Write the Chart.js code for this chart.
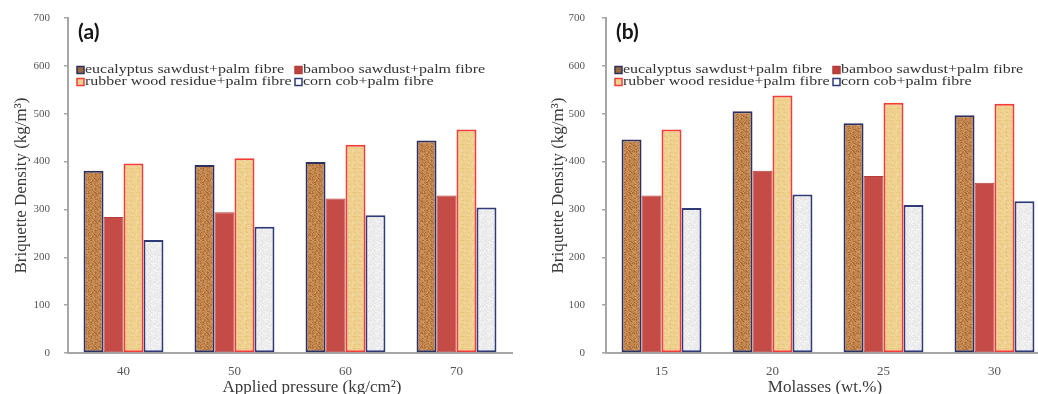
<!DOCTYPE html>
<html>
<head>
<meta charset="utf-8">
<script src="https://cdn.jsdelivr.net/npm/chart.js@4.4.0/dist/chart.umd.min.js"></script>
<style>
    html, body { margin: 0; padding: 0; background: #fff; overflow: hidden; width: 1038px; height: 394px; }
    #wrapA { position: absolute; left: 0; top: 0; width: 520px; height: 394px; }
    #wrapB { position: absolute; left: 520px; top: 0; width: 538px; height: 394px; }
</style>
</head>
<body>
<div id="wrapA"><canvas id="chartA" width="520" height="394"></canvas></div>
<div id="wrapB"><canvas id="chartB" width="538" height="394"></canvas></div>
<script>
// Données
const pressureLabels = ['40', '50', '60', '70'];
const molassesLabels = ['15', '20', '25', '30'];
const seriesNames = [
    'eucalyptus sawdust+palm fibre',
    'bamboo sawdust+palm fibre',
    'rubber wood residue+palm fibre',
    'corn cob+palm fibre'
];

// (a) pression appliquée
const eucalyptusA = [381, 393, 399, 444];
const bambooA = [284, 294, 323, 329];
const rubberA = [396, 407, 435, 467];
const cornA = [236, 264, 288, 304];

// (b) mélasse
const eucalyptusB = [446, 505, 480, 497];
const bambooB = [329, 381, 370, 356];
const rubberB = [467, 538, 523, 521];
const cornB = [303, 331, 309, 317];

const yMin = 0;
const yMax = 700;
const yStep = 100;

const SERIF = '"Liberation Serif", "Times New Roman", serif';

// Petites textures déterministes pour imiter le remplissage des barres
function makePattern(shades, rowShade, size) {
    const c = document.createElement('canvas');
    c.width = size;
    c.height = size;
    const g = c.getContext('2d');
    for (let y = 0; y < size; y++) {
        for (let x = 0; x < size; x++) {
            const h = (x * 37 + y * 91 + x * y * 13 + (x ^ y) * 7 + ((x * x + 3 * y * y) % 11)) % 23;
            let col = shades[h % shades.length];
            if (rowShade && y % 4 === 0 && h % 3 !== 0) col = rowShade;
            g.fillStyle = col;
            g.fillRect(x, y, 1, 1);
        }
    }
    return g.createPattern(c, 'repeat');
}

function buildStyles() {
    return [
        { fill: makePattern(['#c68c52', '#bd8047', '#a8693a', '#d29a5e', '#c48850', '#b3753f'], null, 14), border: '#2e3160', width: 2, legendFill: '#9a6a3c' },
        { fill: '#c44b46', border: '#b33f3b', width: 1, legendFill: '#c0403c' },
        { fill: makePattern(['#f0d392', '#edcc88', '#f3dca3', '#efd08e'], '#e8c77f', 12), border: '#f43c37', width: 2, legendFill: '#f0d392' },
        { fill: makePattern(['#f0f0f0', '#e8e8e8', '#f6f6f6', '#e2e2e2', '#eeeeee', '#f3f3f3'], null, 14), border: '#2f3a78', width: 2, legendFill: '#ffffff' }
    ];
}

// Plugin : étiquette du panneau, légende et titre de l'axe x
const panelDeco = {
    id: 'panelDeco',
    afterDraw(chart, args, opts) {
        const ctx = chart.ctx;
        const area = chart.chartArea;
        ctx.save();

        ctx.fillStyle = '#151515';
        ctx.font = 'bold 21px Lato, "Open Sans", sans-serif';
        ctx.textBaseline = 'middle';
        ctx.textAlign = 'left';
        ctx.fillText(opts.label, area.left + 10, 32);

        // légende sur deux colonnes
        ctx.font = '13px ' + SERIF;
        chart.data.datasets.forEach((ds, i) => {
            const col = i % 2;
            const row = Math.floor(i / 2);
            const bx = area.left + 9 + col * 218;
            const by = 70 + row * 12;
            ctx.fillStyle = ds.legendFill;
            ctx.fillRect(bx, by - 3.5, 7, 7);
            ctx.strokeStyle = ds.borderColor;
            ctx.lineWidth = 1.5;
            ctx.strokeRect(bx, by - 3.5, 7, 7);
            ctx.fillStyle = '#333333';
            ctx.save();
            ctx.translate(bx + 8, by);
            ctx.scale(1.23, 1);
            ctx.fillText(ds.label, 0, 0);
            ctx.restore();
        });

        ctx.fillStyle = '#3a3a3a';
        ctx.font = '17px ' + SERIF;
        ctx.textAlign = 'center';
        ctx.fillText(opts.xTitle, opts.xTitleX, 388);
        ctx.restore();
    }
};

function makeChart(canvasId, labels, values, deco, padLeft, yWidth, tickPad) {
    const styles = buildStyles();
    const datasets = values.map((data, i) => ({
        label: seriesNames[i],
        data: data,
        backgroundColor: styles[i].fill,
        borderColor: styles[i].border,
        borderWidth: styles[i].width,
        borderSkipped: false,
        legendFill: styles[i].legendFill,
        categoryPercentage: 0.72,
        barPercentage: 1.0
    }));

    return new Chart(document.getElementById(canvasId).getContext('2d'), {
        type: 'bar',
        data: { labels: labels, datasets: datasets },
        options: {
            responsive: false,
            animation: false,
            layout: { padding: { top: 18, left: padLeft, right: 8, bottom: 0 } },
            plugins: {
                legend: { display: false },
                tooltip: { enabled: false },
                panelDeco: deco
            },
            scales: {
                x: {
                    grid: { display: false },
                    border: { display: true, color: '#a6a6a6', width: 2 },
                    ticks: { color: '#555555', font: { family: SERIF, size: 13 }, padding: 3 },
                    afterFit(scale) { scale.height = 41; }
                },
                y: {
                    min: yMin,
                    max: yMax,
                    ticks: { stepSize: yStep, color: '#555555', font: { family: SERIF, size: 11 }, padding: tickPad },
                    grid: { drawOnChartArea: false, drawTicks: true, tickLength: 4, color: '#a6a6a6', lineWidth: 1.5 },
                    border: { color: '#a6a6a6', width: 2 },
                    title: {
                        display: true,
                        text: 'Briquette Density (kg/m³)',
                        color: '#3a3a3a',
                        font: { family: SERIF, size: 17 },
                        padding: { top: 11, bottom: 0 }
                    },
                    afterFit(scale) {
                        scale.width = yWidth;
                        // la marge du haut vient seulement du layout
                        scale.paddingTop = 0;
                        scale.paddingBottom = 0;
                    }
                }
            }
        },
        plugins: [panelDeco]
    });
}

makeChart('chartA', pressureLabels, [eucalyptusA, bambooA, rubberA, cornA],
    { label: '(a)', xTitle: 'Applied pressure (kg/cm²)', xTitleX: 312 }, 0, 68, 14);

makeChart('chartB', molassesLabels, [eucalyptusB, bambooB, rubberB, cornB],
    { label: '(b)', xTitle: 'Molasses (wt.%)', xTitleX: 305 }, 17, 69, 17);
</script>
</body>
</html>
